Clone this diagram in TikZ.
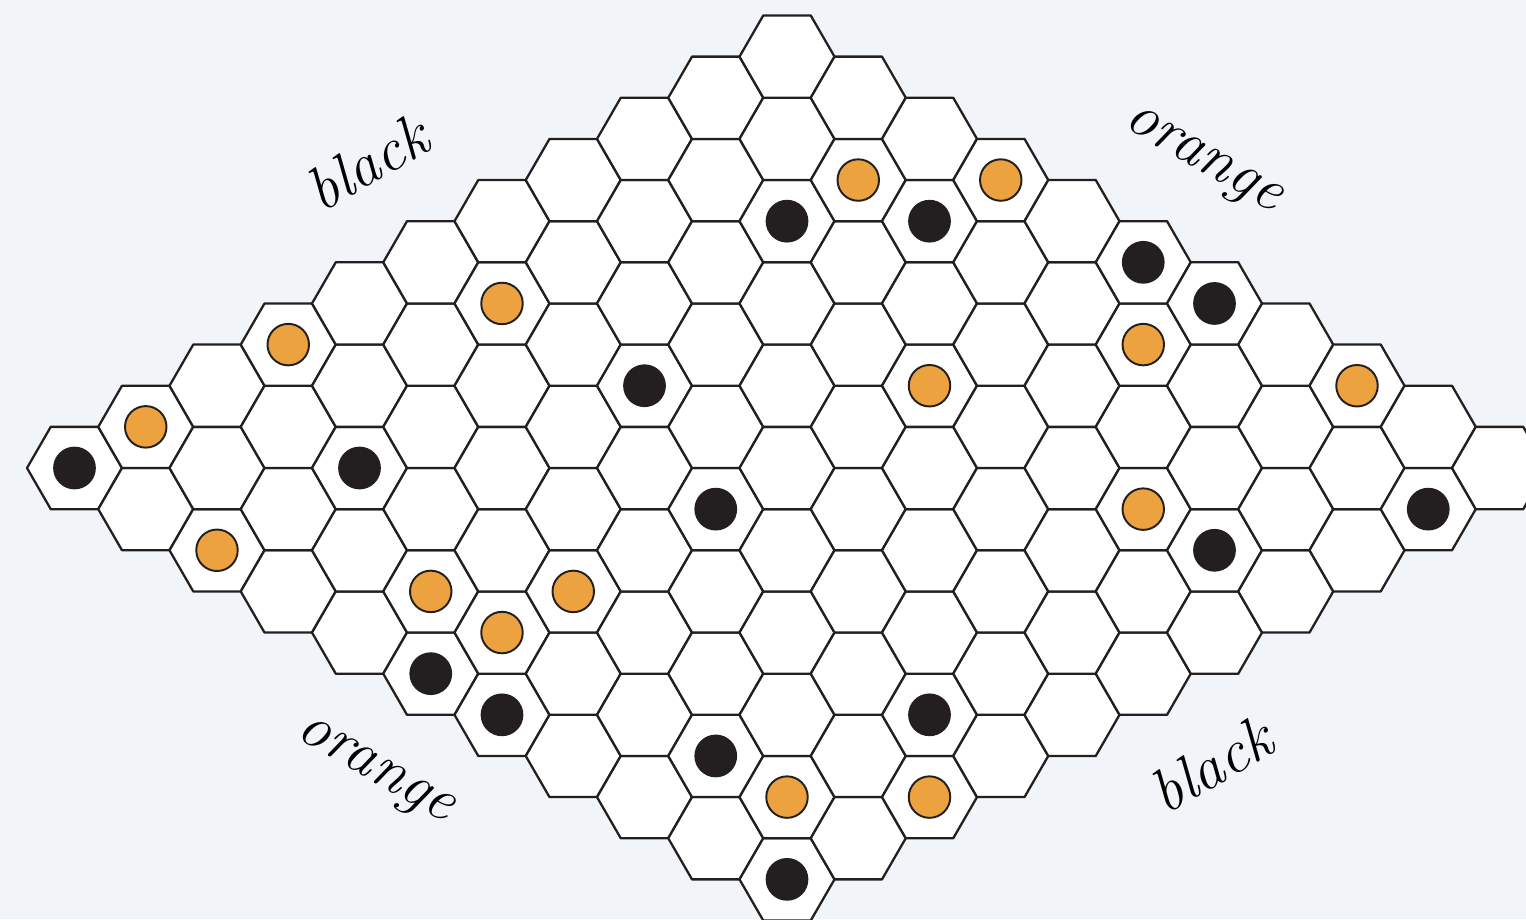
\documentclass[tikz,border=0pt]{standalone}
\usepackage{tikz}
\usetikzlibrary{calc}
\definecolor{boardbg}{HTML}{F1F5F9}
\definecolor{stoneorange}{HTML}{EBA23F}
\definecolor{stoneblack}{HTML}{231F20}
\begin{document}
\begin{tikzpicture}[x=0.95cm, y=0.95cm,
	cell/.style={draw=stoneblack, fill=white, line width=1.3pt, line join=round},
	blackstone/.style={circle, fill=stoneblack, minimum size=0.855cm, inner sep=0pt},
	orangestone/.style={circle, draw=stoneblack, fill=stoneorange, line width=1.1pt, minimum size=0.83cm, inner sep=0pt},
	side/.style={font=\fontsize{35}{40}\selectfont\itshape, text=black}]
	% Background
	\fill[boardbg] (-1.49cm,-9.02cm) rectangle (29.03cm,9.36cm);
	\useasboundingbox (-1.49cm,-9.02cm) rectangle (29.03cm,9.36cm);
	
	% Cells (i runs to the top corner, j to the bottom corner)
	\foreach \i in {0,...,10}{
		\foreach \j in {0,...,10}{
			\coordinate (c-\i-\j) at ({1.5*(\i+\j)}, {0.8660254*(\i-\j)});
			\draw[cell] (c-\i-\j) +(0:1) -- +(60:1) -- +(120:1) -- +(180:1) -- +(240:1) -- +(300:1) -- cycle;
		}
	}
	
	% Black stones
	\foreach \i/\j in {0/0, 2/2, 5/3, 4/5, 0/5, 0/6, 1/8, 0/10, 3/9, 8/2, 9/3, 10/5, 10/6, 7/9, 9/10}
		\node[blackstone] (b-\i-\j) at (c-\i-\j) {};
	
	% Orange stones
	\foreach \i/\j in {1/0, 3/0, 0/2, 5/1, 1/4, 2/5, 1/5, 1/9, 2/10, 9/2, 10/3, 9/6, 7/5, 10/8, 7/8}
		\node[orangestone] (o-\i-\j) at (c-\i-\j) {};
	
	% Side labels
	\node[side, rotate=30] (side-tl) at ($(c-5-0)+(120:2.42)+(-0.13,0)$) {black};
	\node[side, rotate=-30] (side-tr) at ($(c-10-5)+(60:2.42)$) {orange};
	\node[side, rotate=-30] (side-bl) at ($(c-0-5)+(240:2.42)$) {orange};
	\node[side, rotate=30] (side-br) at ($(c-5-10)+(300:2.42)+(0.21,0.17)$) {black};
\end{tikzpicture}
\end{document}
